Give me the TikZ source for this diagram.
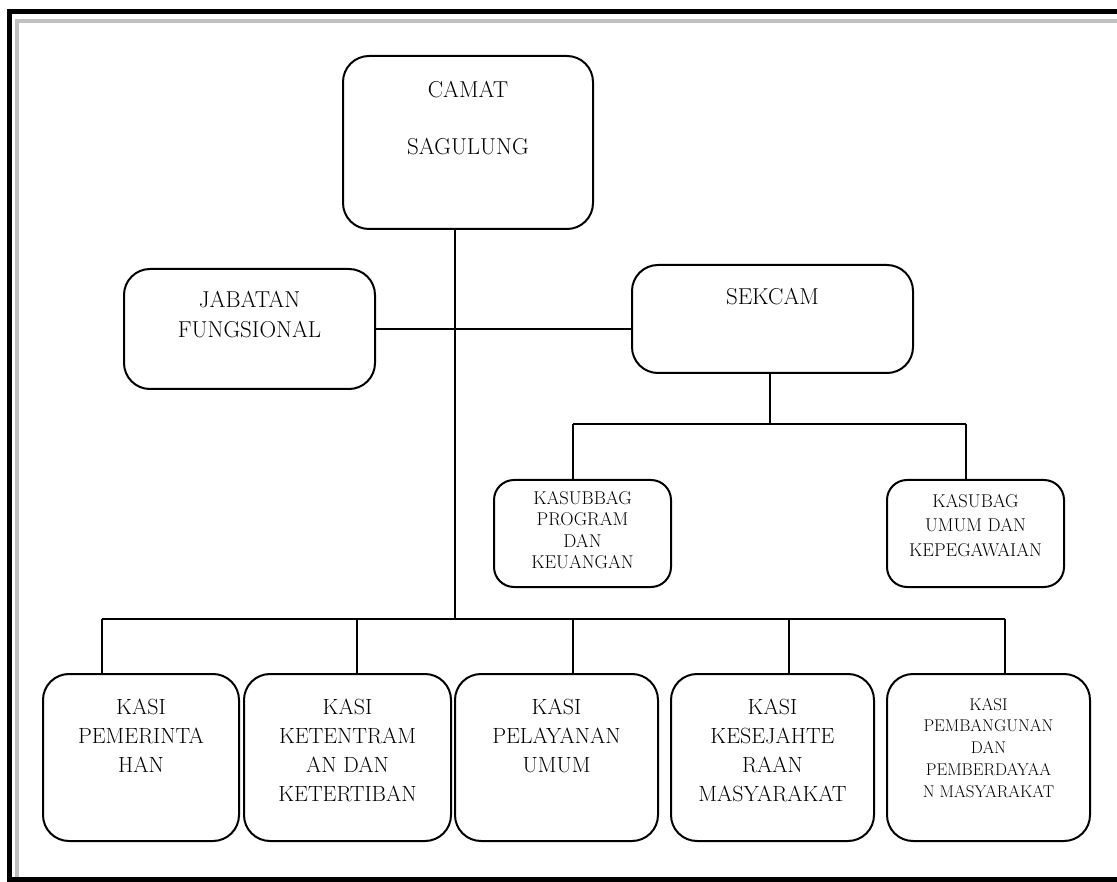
\documentclass[tikz,border=0pt]{standalone}
\usepackage{tikz}
\usetikzlibrary{positioning}
\definecolor{framegray}{RGB}{192,192,192}

\begin{document}
\begin{tikzpicture}[x=1pt,y=-1pt,
    box/.style={draw, line width=2pt, rounded corners=26pt, inner sep=0pt},
    txt/.style={align=center, inner sep=0pt, font=\fontsize{23}{30}\selectfont},
    kasitxt/.style={txt, font=\fontsize{22}{29}\selectfont},
    conn/.style={line width=2.6pt},
    thinconn/.style={line width=1.8pt}]
    \useasboundingbox (0,0) rectangle (1117,882);
    % frame
    \draw[line width=5pt] (1117,11.5) -- (9.5,11.5) -- (9.5,879.5) -- (1117,879.5);
    \draw[framegray, line width=4pt] (1117,21) -- (17,21) -- (17,877);

    % camat, jabatan, sekcam
    \node[box, minimum width=250pt, minimum height=173pt] (camat) at (468,142.5) {};
    \node[txt, below=26pt of camat.north] (camat-t) {CAMAT\\[27pt]SAGULUNG};
    \node[box, minimum width=251pt, minimum height=120pt] (jabatan) at (249.5,329) {};
    \node[txt, below=23pt of jabatan.north] (jabatan-t) {JABATAN\\FUNGSIONAL};
    \node[box, minimum width=281pt, minimum height=108pt] (sekcam) at (772.5,319) {};
    \node[txt, below=24pt of sekcam.north] (sekcam-t) {SEKCAM};

    % kasubbag
    \node[box, rounded corners=20pt, minimum width=177pt, minimum height=107pt] (kasubbag) at (582.5,533.5) {};
    \node[txt, font=\fontsize{18.5}{21.5}\selectfont, below=12pt of kasubbag.north] (kasubbag-t) {KASUBBAG\\PROGRAM\\DAN\\KEUANGAN};
    \node[box, rounded corners=20pt, minimum width=177pt, minimum height=107pt] (kasubag) at (975.5,533.5) {};
    \node[txt, font=\fontsize{18.5}{24.5}\selectfont, below=15pt of kasubag.north] (kasubag-t) {KASUBAG\\UMUM DAN\\KEPEGAWAIAN};

    % kasi
    \node[box, minimum width=196pt, minimum height=167pt] (k1) at (141,757.5) {};
    \node[kasitxt, below=26pt of k1.north] (k1-t) {KASI\\PEMERINTA\\HAN};
    \node[box, minimum width=207pt, minimum height=167pt] (k2) at (347.5,757.5) {};
    \node[kasitxt, below=26pt of k2.north] (k2-t) {KASI\\KETENTRAM\\AN DAN\\KETERTIBAN};
    \node[box, minimum width=203pt, minimum height=167pt] (k3) at (556.5,757.5) {};
    \node[kasitxt, below=26pt of k3.north] (k3-t) {KASI\\PELAYANAN\\UMUM};
    \node[box, minimum width=203pt, minimum height=167pt] (k4) at (772.5,757.5) {};
    \node[kasitxt, below=26pt of k4.north] (k4-t) {KASI\\KESEJAHTE\\RAAN\\MASYARAKAT};
    \node[box, minimum width=203pt, minimum height=167pt] (k5) at (988.5,757.5) {};
    \node[txt, font=\fontsize{17}{21.7}\selectfont, below=25pt of k5.north] (k5-t) {KASI\\PEMBANGUNAN\\DAN\\PEMBERDAYAA\\N MASYARAKAT};

    % lines
    \coordinate (bus) at (455,619);
    \draw[thinconn] (camat.south -| bus) -- (bus);
    \draw[thinconn] (jabatan.east) -- (jabatan.east -| sekcam.west);
    \coordinate (sbus) at (770,424);
    \coordinate (sb-l) at (573,424);
    \coordinate (sb-r) at (966,424);
    \draw[conn] (sekcam.south -| sbus) -- (sbus);
    \draw[conn] (sb-l) -- (sb-r);
    \draw[conn] (sb-l) -- (sb-l |- kasubbag.north);
    \draw[conn] (sb-r) -- (sb-r |- kasubag.north);
    \foreach \x/\k in {102/k1,357/k2,573/k3,789/k4,1005/k5} {
        \coordinate (d-\k) at (\x,619);
        \draw[conn] (d-\k) -- (d-\k |- \k.north);
    }
    \draw[conn] (d-k1) -- (d-k5);
\end{tikzpicture}
\end{document}
